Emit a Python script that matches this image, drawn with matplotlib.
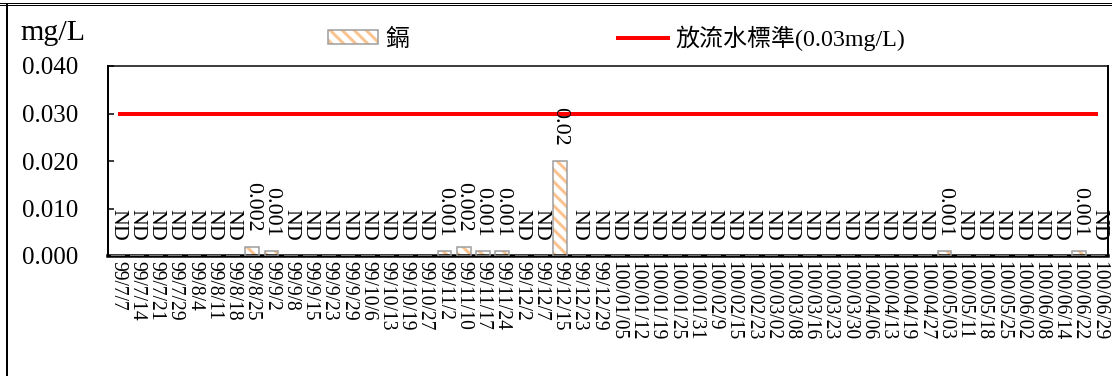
import matplotlib
matplotlib.use("Agg")
import matplotlib.pyplot as plt
from matplotlib.patches import Patch
from matplotlib.lines import Line2D
from matplotlib.legend_handler import HandlerTuple
import numpy as np

dates = ["99/7/7", "99/7/14", "99/7/21", "99/7/29", "99/8/4", "99/8/11", "99/8/18", "99/8/25",
         "99/9/2", "99/9/8", "99/9/15", "99/9/23", "99/9/29", "99/10/6", "99/10/13", "99/10/19",
         "99/10/27", "99/11/2", "99/11/10", "99/11/17", "99/11/24", "99/12/2", "99/12/7", "99/12/15",
         "99/12/23", "99/12/29", "100/01/05", "100/01/12", "100/01/19", "100/01/25", "100/01/31",
         "100/02/9", "100/02/15", "100/02/23", "100/03/02", "100/03/08", "100/03/16", "100/03/23",
         "100/03/30", "100/04/06", "100/04/13", "100/04/19", "100/04/27", "100/05/03", "100/05/11",
         "100/05/18", "100/05/25", "100/06/02", "100/06/08", "100/06/14", "100/06/22", "100/06/29"]

# None = ND (not detected)
cadmium = [None, None, None, None, None, None, None, 0.002,
           0.001, None, None, None, None, None, None, None,
           None, 0.001, 0.002, 0.001, 0.001, None, None, 0.02,
           None, None, None, None, None, None, None,
           None, None, None, None, None, None, None,
           None, None, None, None, None, 0.001, None,
           None, None, None, None, None, 0.001, None]

standard = 0.03
y_ticks = [0.000, 0.010, 0.020, 0.030, 0.040]

series_name = "鎘"
standard_name = "放流水標準(0.03mg/L)"
unit = "mg/L"

SERIF = ["Liberation Serif", "Noto Sans CJK TC"]
plt.rcParams["font.family"] = SERIF
plt.rcParams["hatch.linewidth"] = 3.0

W, H, DPI = 1112, 376, 72
fig = plt.figure(figsize=(W / DPI, H / DPI), dpi=DPI)
ax = fig.add_axes([108 / W, 1 - 256 / H, 1000 / W, 190 / H])

x = np.arange(len(dates))
vals = np.array([0.0 if v is None else v for v in cadmium])

hatch_col = "#F9C28E"
edge_col = "#9C9C9C"
ax.bar(x, vals, width=0.72, color="white", edgecolor=hatch_col, hatch="\\\\", linewidth=0, zorder=2)
ax.bar(x, vals, width=0.72, fill=False, edgecolor=edge_col, linewidth=1.5, zorder=3)

ax.plot(x, [standard] * len(x), color="#FF0000", linewidth=4, zorder=4, solid_capstyle="butt")

for xi, v in zip(x, cadmium):
    label = "ND" if v is None else f"{v:g}"
    yv = 0.0 if v is None else v
    ax.annotate(label, (xi, yv), xytext=(0, 15), textcoords="offset points",
                rotation=-90, ha="center", va="bottom", fontsize=22, zorder=5)

ax.set_xlim(-0.5, len(dates) - 0.5)
ax.set_ylim(0, 0.04)
ax.set_yticks(y_ticks)
ax.set_yticklabels([f"{t:.3f}" for t in y_ticks], fontsize=25)
ax.set_xticks(x)
ax.set_xticklabels(dates, rotation=-90, fontsize=19.5, va="top", ha="center")
ax.tick_params(axis="x", length=0, pad=5)
ax.tick_params(axis="y", direction="in", length=6, width=1.5, pad=30)

ax.spines["left"].set_linewidth(2)
ax.spines["bottom"].set_linewidth(3.5)
ax.spines["top"].set_linewidth(1.5)
ax.spines["right"].set_linewidth(2)

fig.text(20 / W, 1 - 40 / H, unit, fontsize=30, ha="left", va="baseline")

h_bar = (Patch(facecolor="white", edgecolor=hatch_col, hatch="\\\\", linewidth=0),
         Patch(facecolor="none", edgecolor=edge_col, linewidth=1.5))
h_line = Line2D([0], [0], color="#FF0000", linewidth=4)
fig.legend([h_bar, h_line], [series_name, standard_name], ncol=2,
           loc="center left", bbox_to_anchor=(328 / W, 1 - 38 / H), bbox_transform=fig.transFigure,
           frameon=False, fontsize=24, handlelength=2.1, handleheight=0.5, handletextpad=0.28,
           columnspacing=8.7, borderpad=0, borderaxespad=0,
           handler_map={tuple: HandlerTuple(ndivide=1)})

# outer frame of the original screenshot
fig.add_artist(Line2D([0, 1], [1 - 2.5 / H, 1 - 2.5 / H], transform=fig.transFigure, color="black", linewidth=1))
fig.add_artist(Line2D([0, 1], [1 - 5 / H, 1 - 5 / H], transform=fig.transFigure, color="black", linewidth=1))
fig.add_artist(Line2D([7 / W, 7 / W], [0, 1 - 5 / H], transform=fig.transFigure, color="black", linewidth=2))

fig.savefig("out.png", dpi=DPI)
